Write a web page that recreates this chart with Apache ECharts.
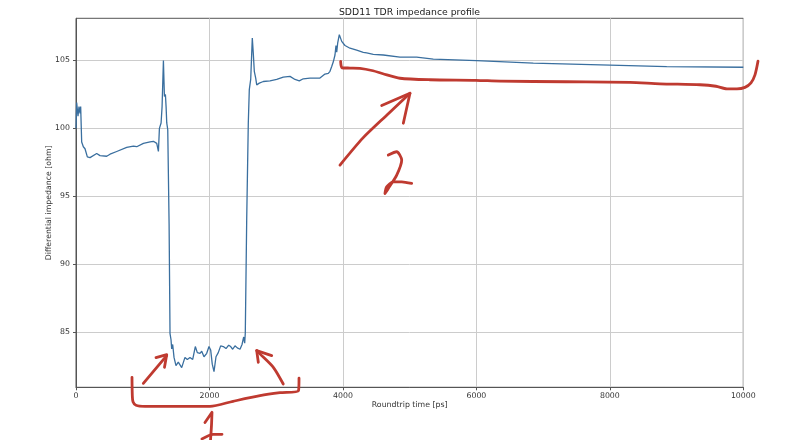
<!DOCTYPE html>
<html>
<head>
<meta charset="utf-8">
<script src="https://cdn.jsdelivr.net/npm/echarts@6/dist/echarts.min.js"></script>
<style>html,body{margin:0;padding:0;background:#fff}#c{width:800px;height:440px}</style>
</head>
<body>
<div id="c"></div>
<script>
// Roundtrip time [ps]
const timePs = [0,10,30,45,60,70,85,110,135,170,210,310,360,460,510,610,760,860,910,1010,1110,1160,1210,1235,1250,1275,1290,1310,1325,1340,1350,1360,1375,1395,1409,1424,1434,1449,1469,1498,1533,1584,1633,1668,1708,1749,1788,1818,1858,1884,1918,1959,1993,2018,2042,2068,2098,2132,2168,2207,2248,2288,2318,2348,2383,2417,2458,2488,2513,2528,2537,2558,2582,2597,2618,2633,2642,2657,2672,2693,2708,2747,2807,2907,3008,3106,3207,3282,3346,3406,3506,3656,3731,3781,3806,3832,3856,3881,3896,3907,3922,3946,3967,3982,4031,4106,4206,4305,4331,4356,4455,4605,4855,5105,5354,6004,6853,8002,8852,10000];
// Differential impedance [ohm]
const impedance = [100.0,101.9,100.9,101.6,101.1,101.6,99.0,98.65,98.5,97.9,97.85,98.15,98.0,97.95,98.1,98.3,98.6,98.7,98.65,98.9,99.0,99.05,98.9,98.3,100.0,100.4,101.6,105.0,102.35,102.5,101.6,100.4,99.9,93.0,84.9,84.45,83.77,84.1,83.15,82.55,82.8,82.4,83.15,83.0,83.15,83.0,83.95,83.5,83.45,83.6,83.2,83.45,83.95,83.7,82.65,82.1,83.2,83.5,84.0,83.95,83.8,84.05,83.95,83.75,84.0,83.85,83.75,84.1,84.65,84.2,84.95,93.25,100.4,102.85,103.6,105.5,106.65,105.5,104.2,103.7,103.2,103.33,103.45,103.5,103.6,103.77,103.83,103.6,103.5,103.65,103.7,103.7,104.0,104.05,104.2,104.55,104.9,105.4,106.1,105.6,106.3,106.9,106.85,106.4,106.1,105.9,105.75,105.6,105.5,105.55,105.45,105.4,105.25,105.25,105.1,104.98,104.8,104.65,104.55,104.5];

const xTicks = [0,2000,4000,6000,8000,10000];
const yTicks = [85,90,95,100,105];

// Hand-drawn red annotation strokes, in data units [ps, ohm]
const strokeUnderline2 = [[3966,104.93],[3986,104.46],[4106,104.44],[4256,104.42],[4451,104.24],[4600,104.02],[4855,103.69],[5305,103.58],[5994,103.54],[6354,103.48],[7343,103.43],[8302,103.39],[8751,103.28],[9351,103.21],[9590,103.10],[9755,102.91],[9905,102.91],[10025,103.02],[10115,103.35],[10175,103.94],[10220,104.94]];
const strokeArrow2 = [[3956,97.30],[4301,99.30],[4660,100.99],[5005,102.59]];
const strokeArrow2Head = [[4581,101.68],[5005,102.59],[4905,100.38]];
const strokeDigit2 = [[4680,98.04],[4806,98.28],[4881,97.67],[4806,96.56],[4680,95.58],[4630,95.21],[4656,95.70],[4755,96.07],[4881,96.07],[5030,95.95]];
const strokeArrowLeft = [[1009,81.24],[1359,83.28]];
const strokeArrowLeftHead = [[1199,83.13],[1359,83.35],[1326,82.42]];
const strokeArrowRight = [[3106,81.19],[2957,82.42],[2757,83.41],[2708,83.65]];
const strokeArrowRightHead = [[2933,83.28],[2708,83.65],[2732,82.79]];
const strokeBrace = [[839,81.68],[844,80.33],[854,79.89],[899,79.63],[1034,79.55],[1558,79.55],[2008,79.55],[2353,79.92],[2757,80.33],[3057,80.55],[3334,80.70],[3342,81.62]];
const strokeDigit1 = [[1933,78.36],[2038,79.11],[2030,78.11],[2015,77.01]];
const strokeDigit1Foot = [[1888,77.15],[2053,77.49],[2188,77.49]];

const strokes = [strokeUnderline2,strokeArrow2,strokeArrow2Head,strokeDigit2,strokeArrowLeft,strokeArrowLeftHead,strokeArrowRight,strokeArrowRightHead,strokeBrace,strokeDigit1,strokeDigit1Foot];

const mainData = timePs.map((t,i)=>[t, impedance[i]]);
const font = 'DejaVu Sans';
const txt = '#333';

// plot rectangle
const L = 76, R = 56.7, T = 18.3, B = 52.7;
const plotW = 800 - L - R;
const xMax = 10000, xMaxAnno = 10500;
const yMin = 80.95, yMax = 108.1;

const series = [{
  type:'line', data: mainData, showSymbol:false, symbol:'none',
  lineStyle:{color:'#3a6f9f', width:1.3}, z:3, animation:false
}];
strokes.forEach(s=>{
  series.push({type:'line', data:s, xAxisIndex:1, yAxisIndex:1, showSymbol:false, symbol:'none', clip:false, smooth:0.25,
    lineStyle:{color:'#bf3a30', width:2.8, cap:'round', join:'round'}, z:5, animation:false, silent:true});
});

const chart = echarts.init(document.getElementById('c'), null, {renderer:'canvas'});
chart.setOption({
  animation:false,
  backgroundColor:'#fff',
  title:{text:'SDD11 TDR impedance profile', left:404.5, top:3, textAlign:'center',
    textStyle:{fontFamily:font, fontSize:9.3, fontWeight:'normal', color:'#222'}},
  grid:[
    {left:L, right:R, top:T, bottom:B, show:true, borderColor:'#555', borderWidth:1, backgroundColor:'#fff'},
    {left:L, width:plotW*xMaxAnno/xMax, top:T, bottom:B, show:false}
  ],
  xAxis:[{type:'value', min:0, max:xMax, interval:2000, gridIndex:0,
    name:'Roundtrip time [ps]', nameLocation:'middle', nameGap:14, nameMoveOverlap:false,
    nameTextStyle:{fontFamily:font, fontSize:7.8, color:txt},
    axisLine:{show:true, lineStyle:{color:'#555', width:1}},
    axisTick:{show:true, length:3, lineStyle:{color:'#555'}},
    axisLabel:{fontFamily:font, fontSize:7.8, color:txt, margin:5, formatter:v=>String(v)},
    splitLine:{show:true, lineStyle:{color:'#cccccc', width:1}}},
    {type:'value', min:0, max:xMaxAnno, gridIndex:1, show:false}],
  yAxis:[{type:'value', min:yMin, max:yMax, gridIndex:0,
    name:'Differential impedance [ohm]', nameLocation:'middle', nameGap:23, nameMoveOverlap:false,
    nameTextStyle:{fontFamily:font, fontSize:7.8, color:txt},
    axisLine:{show:true, lineStyle:{color:'#555', width:1}},
    axisTick:{show:true, length:3, customValues:yTicks, lineStyle:{color:'#555'}},
    axisLabel:{fontFamily:font, fontSize:7.8, color:txt, margin:6, customValues:yTicks},
    splitLine:{show:true, lineStyle:{color:'#cccccc', width:1}}},
    {type:'value', min:yMin, max:yMax, gridIndex:1, show:false}],
  series: series
});
</script>
</body>
</html>
